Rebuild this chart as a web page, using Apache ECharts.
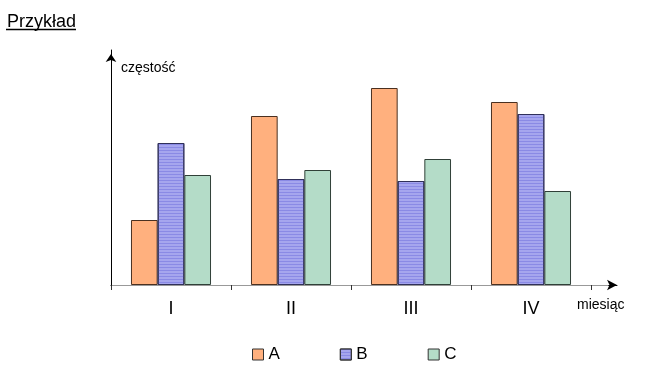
<!DOCTYPE html>
<html><head><meta charset="utf-8">
<script src="https://cdn.jsdelivr.net/npm/echarts@6/dist/echarts.min.js"></script>
<style>html,body{margin:0;padding:0;background:#fff}#c{width:656px;height:374px}</style>
</head><body><div id="c"></div>
<script>
var categories = ['I', 'II', 'III', 'IV'];
var seriesA = [65, 169, 197, 183];
var seriesB = [142, 106, 104, 171];
var seriesC = [110, 115, 126, 94];
var seriesNames = ['A', 'B', 'C'];
var FONT = '"Liberation Sans", Arial, sans-serif';

var hiddenAxisParts = { axisTick: { show: false }, axisLabel: { show: false }, splitLine: { show: false } };
function extAxis(grid, z, color, arrow) {
  return Object.assign({ type: 'value', gridIndex: grid, min: 0, max: 1, z: z,
    axisLine: { show: true, symbol: arrow ? ['none', 'arrow'] : ['none', 'none'], symbolSize: [8, 10], symbolOffset: [0, 0], lineStyle: { color: color, width: 1 } }
  }, hiddenAxisParts);
}

var axisGray = extAxis(1, 4, '#999', false);
axisGray.name = 'miesiąc';
axisGray.nameLocation = 'end';
axisGray.nameGap = -31;
axisGray.nameTextStyle = { fontFamily: FONT, fontSize: 14, color: '#000', align: 'left', verticalAlign: 'top', padding: [13, 0, 0, 0] };

var chart = echarts.init(document.getElementById('c'));
chart.setOption({
  backgroundColor: '#fff',
  animation: false,
  title: { text: 'Przykład', left: 2, top: 8, textStyle: { fontFamily: FONT, fontSize: 18, fontWeight: 'normal', color: '#000' } },
  graphic: [{ type: 'line', shape: { x1: 6, y1: 29.5, x2: 76, y2: 29.5 }, style: { stroke: '#000', lineWidth: 1.5 } }],
  legend: {
    data: seriesNames, top: 341, left: 247, itemWidth: 11, itemHeight: 11, itemGap: 60, icon: 'rect',
    itemStyle: { borderColor: '#333', borderWidth: 1 },
    textStyle: { fontFamily: FONT, fontSize: 17, color: '#000' }
  },
  grid: [
    { left: 111, right: 65, top: 50, bottom: 89 },
    { left: 111, right: 48, top: 50, bottom: 89 },
    { left: 111, right: 39, top: 50, bottom: 89 }
  ],
  xAxis: [
    { type: 'category', data: categories, gridIndex: 0, z: 5,
      axisLine: { lineStyle: { color: '#999', width: 1 } },
      axisTick: { show: true, length: 5, lineStyle: { color: '#333' } },
      axisLabel: { fontFamily: FONT, fontSize: 18, color: '#000', margin: 15 } },
    axisGray,
    extAxis(2, 3, '#000', true)
  ],
  yAxis: [
    { type: 'value', gridIndex: 0, min: 0, max: 235, z: 6,
      axisLine: { show: true, symbol: ['none', 'arrow'], symbolSize: [8, 8], symbolOffset: [0, -4], lineStyle: { color: '#000', width: 1 } },
      axisTick: { show: false }, axisLabel: { show: false }, splitLine: { show: false },
      name: 'częstość', nameLocation: 'end', nameGap: -18,
      nameTextStyle: { fontFamily: FONT, fontSize: 14, color: '#000', align: 'left', verticalAlign: 'middle', padding: [0, 0, 0, 10] } },
    { type: 'value', gridIndex: 1, show: false },
    { type: 'value', gridIndex: 2, show: false }
  ],
  series: [
    { name: 'A', type: 'bar', data: seriesA, barGap: '0%', barCategoryGap: '33.3%',
      itemStyle: { color: '#FFB07E', borderColor: '#4a3020', borderWidth: 1 } },
    { name: 'B', type: 'bar', data: seriesB, barGap: '0%', barCategoryGap: '33.3%',
      itemStyle: { color: '#A6A6EE', borderColor: '#30305a', borderWidth: 1,
        decal: { symbol: 'rect', dashArrayX: [1, 0], dashArrayY: [1, 2], color: 'rgba(110,110,220,0.5)', rotation: 0 } } },
    { name: 'C', type: 'bar', data: seriesC, barGap: '0%', barCategoryGap: '33.3%',
      itemStyle: { color: '#B4DCC8', borderColor: '#304038', borderWidth: 1 } }
  ]
});
</script></body></html>
